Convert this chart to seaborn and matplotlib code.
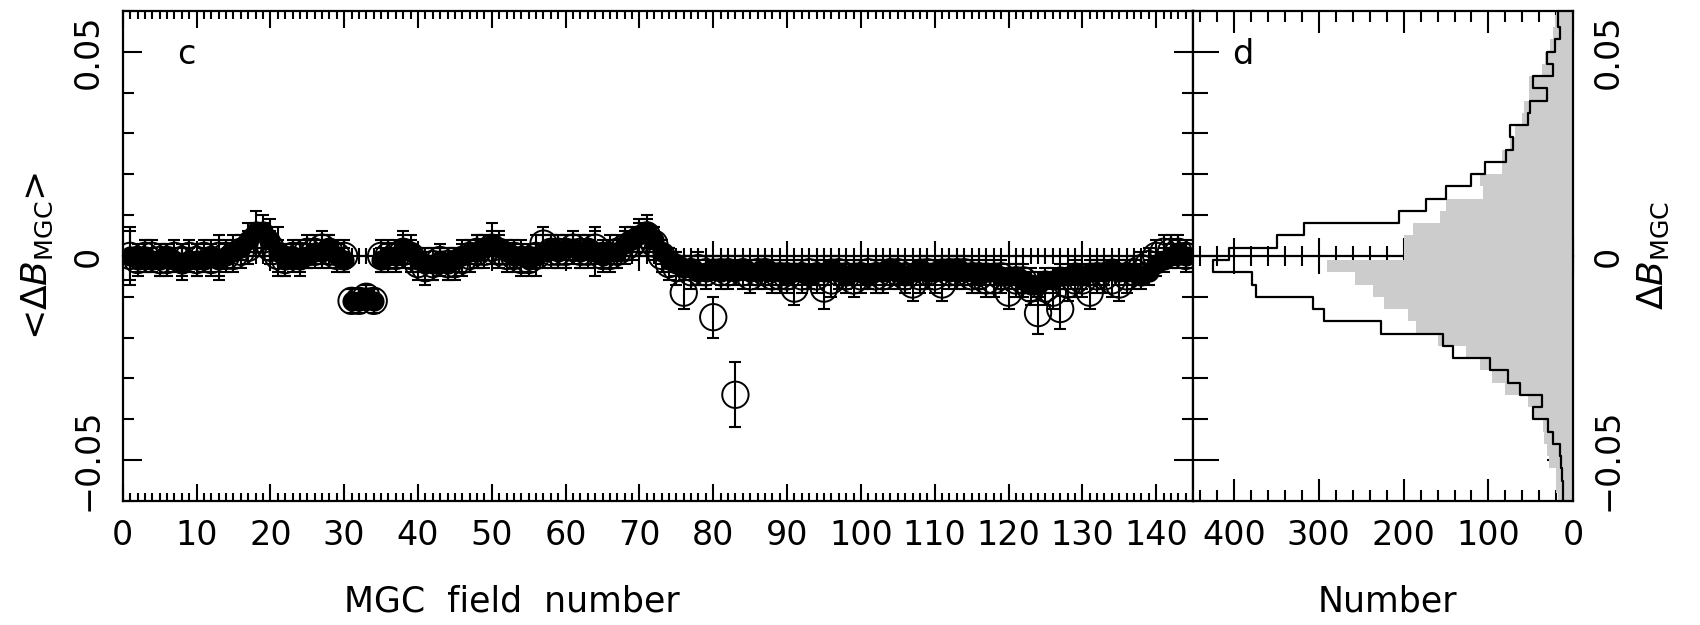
import matplotlib
matplotlib.use("Agg")
import numpy as np
import pandas as pd
import matplotlib.pyplot as plt
import seaborn as sns
from matplotlib.ticker import MultipleLocator, NullFormatter

# ---------------- data ----------------
fields = list(range(1, 145))

filled_db = [
    0.000, -0.001, 0.000, -0.001, -0.001, 0.000, -0.001, -0.002, -0.001, -0.001,
    -0.001, 0.000, -0.001, 0.000, 0.001, 0.002, 0.004, 0.006, 0.006, 0.004,
    0.001, -0.001, 0.000, -0.001, 0.000, 0.001, 0.001, 0.002, 0.000, -0.001,
    -0.011, -0.011, -0.010, -0.011, -0.001, 0.000, 0.000, 0.002, 0.001, -0.001,
    -0.002, -0.002, -0.001, -0.002, -0.001, 0.000, 0.001, 0.001, 0.002, 0.003,
    0.002, 0.001, 0.000, 0.000, -0.001, 0.000, 0.001, 0.002, 0.001, 0.002,
    0.002, 0.001, 0.002, 0.001, 0.000, 0.001, 0.001, 0.003, 0.004, 0.005,
    0.006, 0.004, 0.001, -0.001, -0.002, -0.003, -0.003, -0.004, -0.004, -0.003,
    -0.004, -0.003, -0.004, -0.003, -0.004, -0.004, -0.003, -0.004, -0.004, -0.005,
    -0.004, -0.004, -0.005, -0.004, -0.004, -0.003, -0.004, -0.005, -0.004, -0.004,
    -0.005, -0.004, -0.004, -0.003, -0.004, -0.005, -0.004, -0.003, -0.004, -0.004,
    -0.003, -0.004, -0.003, -0.004, -0.004, -0.005, -0.004, -0.004, -0.005, -0.005,
    -0.005, -0.006, -0.007, -0.007, -0.006, -0.006, -0.005, -0.005, -0.004, -0.005,
    -0.004, -0.004, -0.004, -0.003, -0.004, -0.004, -0.004, -0.005, -0.004, -0.002,
    -0.001, 0.000, 0.001, 0.000,
]
filled_err = [
    0.006, 0.003, 0.004, 0.003, 0.004, 0.003, 0.003, 0.004, 0.003, 0.004,
    0.003, 0.004, 0.005, 0.003, 0.004, 0.003, 0.004, 0.005, 0.004, 0.005,
    0.006, 0.004, 0.003, 0.004, 0.003, 0.003, 0.004, 0.003, 0.003, 0.003,
    0.003, 0.003, 0.003, 0.003, 0.003, 0.003, 0.003, 0.004, 0.004, 0.003,
    0.004, 0.004, 0.003, 0.004, 0.003, 0.004, 0.003, 0.004, 0.003, 0.005,
    0.004, 0.003, 0.003, 0.004, 0.003, 0.003, 0.004, 0.003, 0.004, 0.003,
    0.003, 0.004, 0.003, 0.006, 0.003, 0.004, 0.003, 0.004, 0.003, 0.004,
    0.004, 0.003, 0.003, 0.003, 0.003, 0.003, 0.003, 0.003, 0.003, 0.003,
    0.003, 0.003, 0.003, 0.003, 0.003, 0.003, 0.003, 0.003, 0.003, 0.003,
    0.003, 0.003, 0.003, 0.003, 0.003, 0.003, 0.003, 0.003, 0.003, 0.003,
    0.003, 0.003, 0.003, 0.003, 0.003, 0.003, 0.003, 0.003, 0.003, 0.003,
    0.003, 0.003, 0.003, 0.003, 0.003, 0.003, 0.003, 0.003, 0.003, 0.003,
    0.003, 0.003, 0.004, 0.003, 0.003, 0.003, 0.003, 0.003, 0.003, 0.003,
    0.003, 0.003, 0.003, 0.003, 0.003, 0.003, 0.003, 0.003, 0.003, 0.003,
    0.003, 0.003, 0.003, 0.003,
]
open_db = [
    0.000, -0.001, 0.000, 0.000, -0.001, -0.001, 0.000, -0.001, 0.000, -0.001,
    0.000, -0.001, 0.000, 0.000, 0.000, 0.001, 0.002, 0.004, 0.004, 0.002,
    0.000, -0.001, 0.000, 0.000, 0.001, 0.001, 0.002, 0.001, 0.000, 0.000,
    -0.011, -0.011, -0.010, -0.011, 0.000, 0.000, 0.000, 0.001, 0.000, -0.002,
    -0.003, -0.002, -0.001, -0.002, -0.002, -0.001, 0.000, 0.001, 0.001, 0.002,
    0.001, 0.000, 0.000, -0.001, -0.001, 0.000, 0.003, 0.001, 0.001, 0.001,
    0.002, 0.001, 0.001, 0.002, 0.000, 0.000, 0.001, 0.002, 0.003, 0.004,
    0.005, 0.003, 0.000, -0.002, -0.003, -0.009, -0.004, -0.003, -0.004, -0.015,
    -0.004, -0.004, -0.034, -0.004, -0.005, -0.004, -0.004, -0.005, -0.005, -0.005,
    -0.008, -0.005, -0.004, -0.005, -0.008, -0.006, -0.004, -0.005, -0.006, -0.005,
    -0.004, -0.005, -0.005, -0.004, -0.004, -0.005, -0.007, -0.005, -0.004, -0.005,
    -0.007, -0.004, -0.004, -0.004, -0.005, -0.005, -0.006, -0.006, -0.005, -0.009,
    -0.006, -0.006, -0.008, -0.014, -0.008, -0.009, -0.013, -0.007, -0.006, -0.006,
    -0.009, -0.005, -0.005, -0.006, -0.007, -0.005, -0.004, -0.003, -0.002, 0.000,
    0.001, 0.001, 0.001, 0.000,
]
open_err = [
    0.007, 0.004, 0.004, 0.004, 0.004, 0.004, 0.004, 0.004, 0.004, 0.004,
    0.004, 0.004, 0.005, 0.004, 0.004, 0.004, 0.004, 0.004, 0.004, 0.004,
    0.004, 0.004, 0.004, 0.004, 0.004, 0.004, 0.004, 0.004, 0.004, 0.004,
    0.003, 0.003, 0.003, 0.003, 0.004, 0.004, 0.004, 0.004, 0.004, 0.004,
    0.004, 0.004, 0.004, 0.004, 0.004, 0.004, 0.004, 0.004, 0.004, 0.004,
    0.004, 0.004, 0.004, 0.004, 0.004, 0.005, 0.004, 0.004, 0.004, 0.004,
    0.004, 0.004, 0.004, 0.004, 0.004, 0.004, 0.004, 0.004, 0.004, 0.004,
    0.004, 0.004, 0.004, 0.004, 0.004, 0.004, 0.004, 0.004, 0.004, 0.005,
    0.004, 0.004, 0.008, 0.004, 0.004, 0.004, 0.004, 0.004, 0.004, 0.004,
    0.004, 0.004, 0.004, 0.004, 0.005, 0.004, 0.004, 0.004, 0.004, 0.004,
    0.004, 0.004, 0.004, 0.004, 0.004, 0.004, 0.004, 0.004, 0.004, 0.004,
    0.004, 0.004, 0.004, 0.004, 0.004, 0.004, 0.004, 0.004, 0.004, 0.004,
    0.004, 0.004, 0.004, 0.005, 0.004, 0.004, 0.005, 0.004, 0.004, 0.004,
    0.004, 0.004, 0.004, 0.004, 0.004, 0.004, 0.004, 0.004, 0.004, 0.004,
    0.004, 0.004, 0.004, 0.004,
]

# histogram bins (width 0.003) and counts, from bottom to top
hist_edges = [round(-0.061 + 0.003 * k, 4) for k in range(42)]
black_counts = [
    12, 12, 13, 14, 16, 24, 30, 47, 37, 63,
    77, 98, 142, 154, 227, 294, 307, 374, 379, 424,
    406, 349, 317, 205, 173, 150, 121, 104, 79, 71,
    75, 53, 51, 31, 47, 24, 31, 22, 16, 18, 18,
]
gray_counts = [
    18, 20, 21, 29, 31, 35, 36, 47, 53, 81,
    96, 110, 126, 160, 185, 195, 223, 236, 257, 290,
    199, 199, 189, 157, 150, 106, 110, 84, 84, 75,
    69, 60, 58, 52, 52, 37, 33, 27, 24, 22, 20,
]
hist_centers = [round((a + b) / 2, 5) for a, b in zip(hist_edges[:-1], hist_edges[1:])]

df = pd.DataFrame({"field": fields, "filled": filled_db, "filled_err": filled_err,
                   "open": open_db, "open_err": open_err})
hdf = pd.DataFrame({"dB": hist_centers, "black": black_counts, "gray": gray_counts})

# ---------------- style ----------------
sns.set_theme(style="ticks")
plt.rcParams["font.family"] = ["DejaVu Sans"]
plt.rcParams["axes.linewidth"] = 1.6
for key in ("text.color", "axes.labelcolor", "xtick.color", "ytick.color",
            "axes.edgecolor", "xtick.labelcolor", "ytick.labelcolor"):
    plt.rcParams[key] = "black"
FS = 24
LFS = 25


def fmt(v, p):
    if abs(v) < 1e-9:
        return "0"
    return f"{v:.2f}".replace("-", "\u2212")


fig = plt.figure(figsize=(17, 6.25), dpi=100)
axl = fig.add_axes([0.0722, 0.1984, 0.6296, 0.7843])
axr = fig.add_axes([0.7018, 0.1984, 0.2237, 0.7843])

# ---------------- left panel ----------------
axl.errorbar(df["field"], df["filled"], yerr=df["filled_err"], fmt="none",
             ecolor="black", elinewidth=1.5, capsize=4.5, capthick=1.5, zorder=2)
axl.errorbar(df["field"], df["open"], yerr=df["open_err"], fmt="none",
             ecolor="black", elinewidth=1.5, capsize=4.5, capthick=1.5, zorder=2)
sns.scatterplot(data=df, x="field", y="filled", ax=axl, color="black", s=210,
                linewidth=0, zorder=3, legend=False)
sns.scatterplot(data=df, x="field", y="open", ax=axl, color="black", s=360,
                facecolor="none", edgecolor="black", linewidth=1.4, zorder=4,
                legend=False)

axl.set_xlim(0, 145)
axl.set_ylim(-0.06, 0.06)
axl.xaxis.set_major_locator(MultipleLocator(10))
axl.xaxis.set_minor_locator(MultipleLocator(1))
axl.yaxis.set_major_locator(MultipleLocator(0.05))
axl.yaxis.set_minor_locator(MultipleLocator(0.01))
axl.yaxis.set_major_formatter(plt.FuncFormatter(fmt))
axl.tick_params(which="both", direction="in", top=True, right=True, labelsize=FS,
                colors="black", width=1.5)
axl.tick_params(axis="x", which="major", length=12, pad=13)
axl.tick_params(axis="x", which="minor", length=6)
axl.tick_params(axis="y", which="major", length=14, pad=13, labelrotation=90)
axl.tick_params(axis="y", which="minor", length=8)
for t in axl.get_yticklabels():
    t.set_verticalalignment("center")

axl.set_xlabel("MGC  field  number", fontsize=LFS)
axl.xaxis.set_label_coords(0.364, -0.17)
axl.set_ylabel(r"<$\Delta B_{\mathrm{MGC}}$>", fontsize=LFS + 1, labelpad=12)
axl.text(8.6, 0.0492, "c", fontsize=FS, ha="center", va="center")

sec_l = axl.secondary_xaxis(0.5)
sec_l.xaxis.set_major_locator(MultipleLocator(10))
sec_l.xaxis.set_minor_locator(MultipleLocator(1))
sec_l.xaxis.set_major_formatter(NullFormatter())
sec_l.tick_params(which="major", direction="inout", length=22, width=1.5, colors="black")
sec_l.tick_params(which="minor", direction="inout", length=12, width=1.5, colors="black")
for sp in sec_l.spines.values():
    sp.set_linewidth(1.6)

# ---------------- right panel ----------------
sns.histplot(data=hdf, y="dB", weights="gray", bins=hist_edges, element="step",
             fill=True, color="#cccccc", alpha=1, linewidth=0, ax=axr, zorder=1)
sns.histplot(data=hdf, y="dB", weights="black", bins=hist_edges, element="step",
             fill=False, color="black", linewidth=1.6, ax=axr, zorder=2)

axr.set_xlim(448, 0)
axr.set_ylim(-0.06, 0.06)
axr.xaxis.set_major_locator(MultipleLocator(100))
axr.xaxis.set_minor_locator(MultipleLocator(20))
axr.yaxis.set_major_locator(MultipleLocator(0.05))
axr.yaxis.set_minor_locator(MultipleLocator(0.01))
axr.yaxis.set_major_formatter(plt.FuncFormatter(fmt))
axr.tick_params(which="both", direction="in", top=True, left=True, right=True,
                labelleft=False, labelright=True, labelsize=FS, colors="black", width=1.5)
axr.tick_params(axis="x", which="major", length=16, pad=13)
axr.tick_params(axis="x", which="minor", length=8)
axr.tick_params(axis="y", which="major", length=19, pad=13, labelrotation=90)
axr.tick_params(axis="y", which="minor", length=11)
for t in axr.get_yticklabels():
    t.set_verticalalignment("center")

axr.set_xlabel("Number", fontsize=LFS)
axr.xaxis.set_label_coords(0.51, -0.17)
axr.yaxis.set_label_position("right")
axr.set_ylabel(r"$\Delta B_{\mathrm{MGC}}$", fontsize=LFS + 1, rotation=90, labelpad=8)
axr.text(390, 0.0492, "d", fontsize=FS, ha="center", va="center")

sec_r = axr.secondary_xaxis(0.5)
sec_r.xaxis.set_major_locator(MultipleLocator(100))
sec_r.xaxis.set_minor_locator(MultipleLocator(20))
sec_r.xaxis.set_major_formatter(NullFormatter())
sec_r.tick_params(which="major", direction="inout", length=26, width=1.5, colors="black")
sec_r.tick_params(which="minor", direction="inout", length=14, width=1.5, colors="black")
for sp in sec_r.spines.values():
    sp.set_linewidth(1.6)

for ax in (axl, axr):
    for sp in ax.spines.values():
        sp.set_visible(True)
        sp.set_color("black")
        sp.set_linewidth(1.6)

fig.savefig("out.png", dpi=100, facecolor="white")
